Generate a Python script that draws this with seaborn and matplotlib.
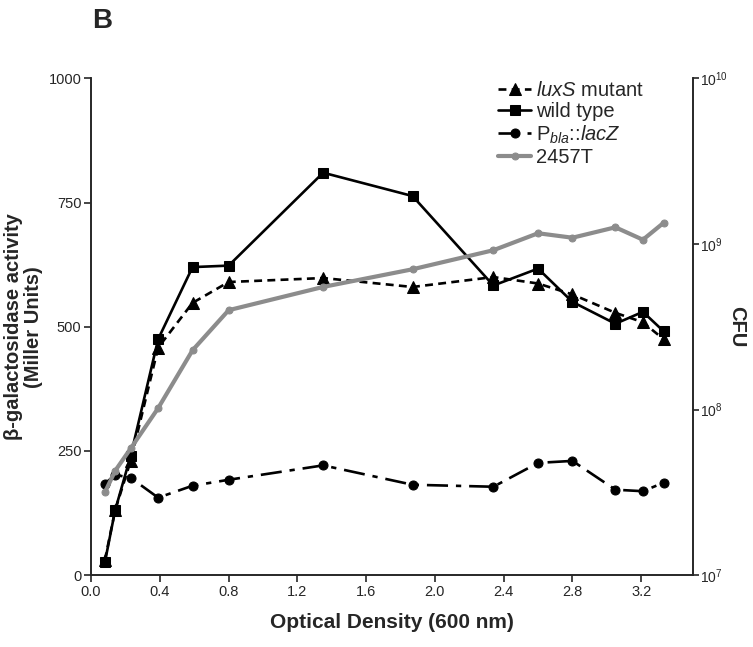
import numpy as np
import matplotlib
matplotlib.use("Agg")
import matplotlib.pyplot as plt
import seaborn as sns

# optical density (600 nm) sampling points, shared by all series
od = [0.08, 0.14, 0.23, 0.39, 0.59, 0.80, 1.35, 1.87, 2.34, 2.60, 2.80, 3.05, 3.21, 3.33]

# beta-galactosidase activity (Miller units)
lux_s = [30, 131, 230, 458, 548, 590, 598, 580, 600, 587, 565, 528, 509, 475]
wild_type = [26, 131, 240, 475, 620, 623, 810, 763, 583, 617, 550, 506, 530, 491]
p_bla = [184, 202, 196, 156, 180, 192, 221, 182, 178, 226, 230, 172, 169, 186]

# CFU of strain 2457T (right axis, log scale)
cfu_2457t = [3.16e7, 4.27e7, 5.82e7, 1.02e8, 2.28e8, 3.98e8, 5.5e8, 7.03e8,
             9.16e8, 1.16e9, 1.09e9, 1.26e9, 1.06e9, 1.34e9]

sns.set_style("ticks")
plt.rcParams['font.family'] = ['Liberation Sans', 'DejaVu Sans']
plt.rcParams['mathtext.fontset'] = 'custom'
plt.rcParams['mathtext.rm'] = 'Liberation Sans'
plt.rcParams['mathtext.it'] = 'Liberation Sans:italic'

fig = plt.figure(figsize=(7.53, 6.47), dpi=100)
ax = fig.add_axes([0.121, 0.111, 0.799, 0.768])
ax2 = ax.twinx()

sns.lineplot(x=od, y=lux_s, ax=ax, color='black', marker='^', markersize=8.5,
             markeredgecolor='black', linewidth=1.9,
             linestyle=(0, (3, 2)), label=r'$\mathit{luxS}$ mutant')
sns.lineplot(x=od, y=wild_type, ax=ax, color='black', marker='s', markersize=6.5,
             markeredgecolor='black', linewidth=1.9, label='wild type')
sns.lineplot(x=od, y=p_bla, ax=ax, color='black', marker='o', markersize=6.5,
             markeredgecolor='black', linewidth=1.9,
             linestyle=(0, (8, 3, 2, 3)), label=r'P$_{\mathit{bla}}$' + '::' + r'$\mathit{lacZ}$')
sns.lineplot(x=od, y=cfu_2457t, ax=ax2, color='#8c8c8c', marker='o', markersize=5,
             markeredgecolor='#8c8c8c', linewidth=3, label='2457T')

ax.set_xlim(0, 3.5)
ax.set_ylim(0, 1000)
ax.set_xticks([0.0, 0.4, 0.8, 1.2, 1.6, 2.0, 2.4, 2.8, 3.2])
ax.set_xticklabels(['0.0', '0.4', '0.8', '1.2', '1.6', '2.0', '2.4', '2.8', '3.2'])
ax.set_yticks([0, 250, 500, 750, 1000])
ax.tick_params(labelsize=10.5, length=5, width=1.2, direction='out', pad=2)

ax2.set_yscale('log')
ax2.set_ylim(1e7, 1e10)
ax2.set_yticks([1e7, 1e8, 1e9, 1e10])
ax2.set_yticklabels([r'$10^7$', r'$10^8$', r'$10^9$', r'$10^{10}$'])
ax2.minorticks_off()
ax2.tick_params(labelsize=10, length=4, width=1.2, direction='out', pad=1)

for a in (ax, ax2):
    a.spines['top'].set_visible(False)
    for s in ('left', 'right', 'bottom'):
        a.spines[s].set_linewidth(1.2)

ax.set_xlabel('Optical Density (600 nm)', fontsize=15, fontweight='bold', labelpad=10)
ax.set_ylabel('β-galactosidase activity\n(Miller Units)', fontsize=14.5,
              fontweight='bold', labelpad=4, linespacing=1.05)
ax2.set_ylabel('CFU', fontsize=14.5, fontweight='bold', rotation=270, labelpad=13)

fig.text(0.123, 0.988, 'B', fontsize=20, fontweight='bold', va='top')

h1, l1 = ax.get_legend_handles_labels()
h2, l2 = ax2.get_legend_handles_labels()
if ax.get_legend() is not None:
    ax.get_legend().remove()
ax2.legend(h1 + h2, l1 + l2, loc='upper left', bbox_to_anchor=(0.677, 0.994),
           frameon=False, fontsize=14.5, handlelength=1.6, handletextpad=0.25,
           labelspacing=0.1, borderaxespad=0, borderpad=0)

fig.savefig('out.png', dpi=100)
